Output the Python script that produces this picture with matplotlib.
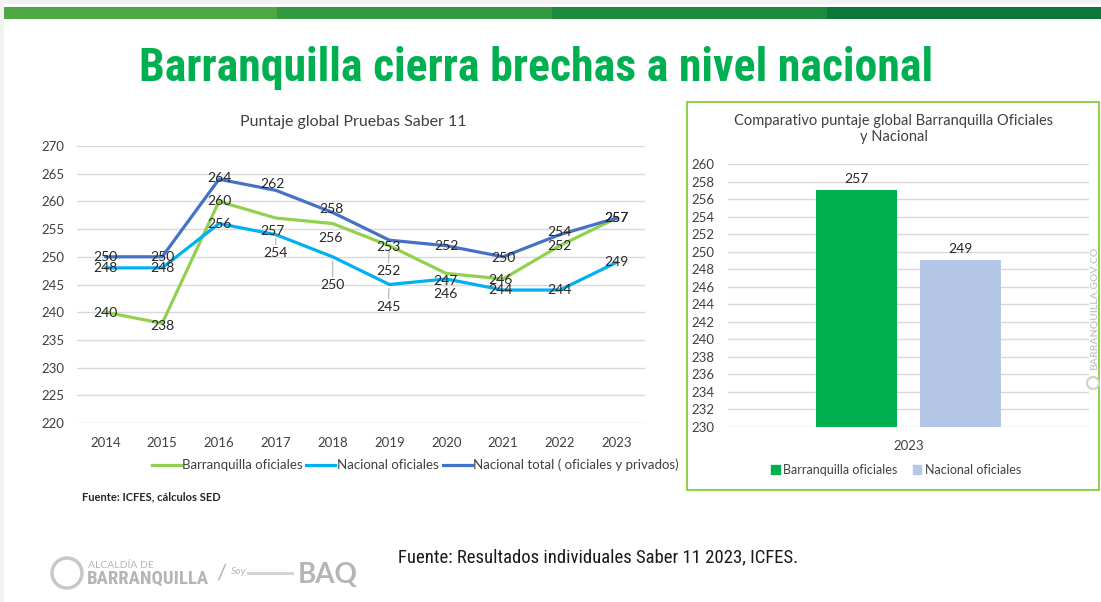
import matplotlib
matplotlib.use("Agg")
import matplotlib.pyplot as plt
from matplotlib.patches import Rectangle, Circle
from matplotlib.lines import Line2D
import matplotlib.font_manager as fm

# ---------------- data ----------------
years = ["2014", "2015", "2016", "2017", "2018", "2019", "2020", "2021", "2022", "2023"]
baq_oficiales = [240, 238, 260, 257, 256, 252, 247, 246, 252, 257]
nac_oficiales = [248, 248, 256, 254, 250, 245, 246, 244, 244, 249]
nac_total = [250, 250, 264, 262, 258, 253, 252, 250, 254, 257]
series_names = ["Barranquilla oficiales", "Nacional oficiales",
                "Nacional total ( oficiales y privados)"]

bar_category = ["2023"]
bar_names = ["Barranquilla oficiales", "Nacional oficiales"]
bar_values = [257, 249]

# ---------------- style ----------------
W, H = 1101, 602
avail = {f.name for f in fm.fontManager.ttflist}
def pick(*names):
    for n in names:
        if n in avail:
            return n
    return "DejaVu Sans"

FONT = pick("Lato", "Open Sans", "DejaVu Sans")
NARROW = pick("Liberation Sans Narrow", "Roboto Condensed", "Liberation Sans")
plt.rcParams["font.family"] = [FONT, "DejaVu Sans"]

C_GREEN = "#92d050"
C_CYAN = "#00b0f0"
C_BLUE = "#4472c4"
C_BAR1 = "#00b050"
C_BAR2 = "#b4c7e7"
TXT = "#404040"
GRID = "#d9d9d9"

fig = plt.figure(figsize=(W / 100, H / 100), dpi=100)
fig.patch.set_facecolor("white")

def fx(x):
    return x / W

def fy(y):
    return 1 - y / H

# background edge + top bar
fig.add_artist(Rectangle((0, 0), 1, 1, transform=fig.transFigure,
                         facecolor="#f2f2f2", edgecolor="none", zorder=-10))
fig.add_artist(Rectangle((fx(4), 0), 1, fy(4), transform=fig.transFigure,
                         facecolor="white", edgecolor="none", zorder=-9))
seg_cols = ["#4fa843", "#339a3f", "#1c8a3c", "#0a783a"]
seg_x = [4, 277, 552, 827, 1101]
for i, c in enumerate(seg_cols):
    fig.add_artist(Rectangle((fx(seg_x[i]), fy(19)), fx(seg_x[i + 1] - seg_x[i]), 12 / H,
                             transform=fig.transFigure, facecolor=c, edgecolor="none"))

# main title
fig.text(fx(536), fy(68), "Barranquilla cierra brechas a nivel nacional",
         ha="center", va="center", fontsize=33, fontweight="bold",
         color="#00b050", family=[NARROW, "DejaVu Sans"])

# ---------------- left line chart ----------------
ax = fig.add_axes([fx(77), fy(423), fx(645 - 77), (423 - 146) / H])
x = list(range(len(years)))
lines_data = [baq_oficiales, nac_oficiales, nac_total]
colors = [C_GREEN, C_CYAN, C_BLUE]
for vals, col, name in zip(lines_data, colors, series_names):
    ax.plot(x, vals, color=col, lw=2.3, label=name, solid_capstyle="round", zorder=3)

ax.set_xlim(-0.5, len(years) - 0.5)
ax.set_ylim(220, 270)
ax.set_yticks(range(220, 271, 5))
ax.set_xticks(x)
ax.set_xticklabels(years)
ax.tick_params(length=0, labelsize=9.5, labelcolor=TXT)
ax.tick_params(axis="y", pad=9)
ax.tick_params(axis="x", pad=10)
for s in ax.spines.values():
    s.set_visible(False)
ax.grid(axis="y", color=GRID, lw=1)
ax.set_axisbelow(True)
fig.text(fx(353), fy(122), "Puntaje global Pruebas Saber 11", fontsize=11.5, color=TXT,
         ha="center", va="center")

# label offsets (pixels)
off_total = [(0, 0), (0, 0), (0, 1), (-3, 6), (-1, 3), (-1, -7), (0, 0), (0, -1), (0, 3), (0, 0)]
off_baq = [(0, -1), (0, -3), (0, 0), (-3, -13), (-2, -14), (-1, -25), (-1, -8), (-3, -1), (0, 0), (0, 0)]
off_nac = [(0, 0), (0, 0), (0, 0), (0, -18), (0, -28), (-1, -22), (-1, -15), (-3, 0), (0, 0), (0, 0)]
for vals, offs in zip([nac_total, baq_oficiales, nac_oficiales], [off_total, off_baq, off_nac]):
    for xi, (v, (dx, dy)) in enumerate(zip(vals, offs)):
        ax.annotate(str(v), (xi, v), xytext=(dx, dy), textcoords="offset pixels",
                    ha="center", va="center", fontsize=10, color="#262626", zorder=5)
        if abs(dy) >= 15:
            ax.annotate("", (xi, v), xytext=(dx, dy + 8), textcoords="offset pixels",
                        arrowprops=dict(arrowstyle="-", color="#bfbfbf", lw=1,
                                        shrinkA=0, shrinkB=3), zorder=4)

fig.legend(handles=[Line2D([], [], color=c, lw=2.3) for c in colors], labels=series_names,
           loc="center", bbox_to_anchor=(fx(415), fy(465)), ncol=3, frameon=False,
           fontsize=9.5, handlelength=2.2, handletextpad=0.1, columnspacing=0.3,
           labelcolor=TXT)

fig.text(fx(82), fy(497), "Fuente: ICFES, cálculos SED", fontsize=8, fontweight="bold",
         color="#262626", va="center", ha="left")

# ---------------- right bar chart ----------------
fig.add_artist(Rectangle((fx(687), fy(490)), fx(1099 - 687), (490 - 102) / H,
                         transform=fig.transFigure, facecolor="none",
                         edgecolor=C_GREEN, lw=1.5))
ax2 = fig.add_axes([fx(728), fy(427), fx(1089 - 728), (427 - 164) / H])
bw = 0.225
pos = [-0.143, 0.143]
bar_cols = [C_BAR1, C_BAR2]
for p, v, c, n in zip(pos, bar_values, bar_cols, bar_names):
    b = ax2.bar([p], [v - 230], bottom=230, width=bw, color=c, label=n, zorder=3)
    ax2.bar_label(b, labels=[str(v)], padding=4, fontsize=10, color="#262626")
ax2.set_xlim(-0.5, 0.5)
ax2.set_ylim(230, 260)
ax2.set_yticks(range(230, 261, 2))
ax2.set_xticks([0])
ax2.set_xticklabels(bar_category)
ax2.tick_params(length=0, labelsize=9.5, labelcolor=TXT)
ax2.tick_params(axis="y", pad=10)
ax2.tick_params(axis="x", pad=9)
for s in ax2.spines.values():
    s.set_visible(False)
ax2.grid(axis="y", color=GRID, lw=1)
ax2.set_axisbelow(True)
fig.text(fx(894), fy(129), "Comparativo puntaje global Barranquilla Oficiales\ny Nacional",
         ha="center", va="center", fontsize=10.5, color=TXT, linespacing=1.25)
fig.legend(handles=[Rectangle((0, 0), 1, 1, color=c) for c in bar_cols], labels=bar_names,
           loc="center", bbox_to_anchor=(fx(896), fy(470)), ncol=2, frameon=False,
           fontsize=9, handlelength=0.7, handleheight=0.7, handletextpad=0.3,
           columnspacing=1.2, labelcolor=TXT)

# watermark
fig.text(fx(1094), fy(308), "BARRANQUILLA.GOV.CO", rotation=90, ha="center", va="center",
         fontsize=7.5, color="#c8c8c8", fontweight="bold")
fig.add_artist(Circle((10.93, 6.02 - 3.83), 0.06, transform=fig.dpi_scale_trans,
                      facecolor="none", edgecolor="#d0d0d0", lw=1.5))

# bottom logos & source
fig.text(fx(88), fy(566), "ALCALDÍA DE", fontsize=7.5, color="#b5b5b5", va="center")
fig.text(fx(87), fy(579), "BARRANQUILLA", fontsize=13.5, fontweight="bold", color="#b5b5b5",
         va="center", family=[NARROW, "DejaVu Sans"])
fig.text(fx(216), fy(574), "/", fontsize=16, color="#b5b5b5", va="center")
fig.text(fx(231), fy(571), "Soy", fontsize=7.5, color="#b5b5b5", va="center", style="italic")
fig.add_artist(Line2D([fx(248), fx(292)], [fy(573), fy(573)], transform=fig.transFigure,
                      color="#d0d0d0", lw=2))
fig.text(fx(298), fy(575), "BAQ", fontsize=20, fontweight="bold", color="#b5b5b5",
         va="center")
fig.add_artist(Circle((0.67, 6.02 - 5.73), 0.15, transform=fig.dpi_scale_trans,
                      facecolor="none", edgecolor="#c8c8c8", lw=2.5))
fig.text(fx(398), fy(557), "Fuente: Resultados individuales Saber 11 2023, ICFES.",
         fontsize=13.5, color="#1a1a1a", va="center", ha="left", family=[NARROW, "DejaVu Sans"])

fig.savefig("out.png", dpi=100)
